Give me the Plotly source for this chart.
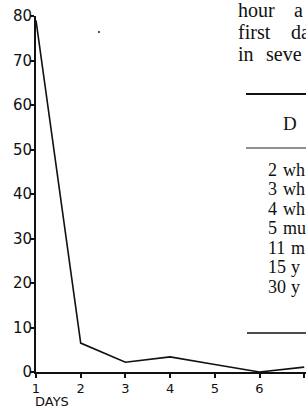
import plotly.graph_objects as go

# ---- data ----
days = [1, 2, 3, 4, 5, 6, 7]
values = [79, 6.5, 2.2, 3.4, 1.7, 0, 1.1]
x_tick_labels = ["1", "2", "3", "4", "5", "6", "7"]
y_tick_vals = [0, 10, 20, 30, 40, 50, 60, 70, 80]
x_title = "DAYS"

para_lines = [("hour", "a"), ("first", "da"), ("in", "seve")]
table_header = "D"
row_numbers = ["2", "3", "4", "5", "11", "15", "30"]
row_words = ["wh", "wh", "wh", "mu", "m", "y", "y"]

# ---- layout geometry (pixels) ----
W, H = 306, 409
L, T, B = 36, 16, 37
PW = W - L
PH = H - T - B
X0_PIX = 372  # y pixel of the x axis


def px(xp):
    return (xp - L) / PW


def py(yp):
    return (X0_PIX - yp) / PH


fig = go.Figure()
fig.add_trace(go.Scatter(
    x=days, y=values, mode="lines",
    line=dict(color="#111111", width=1.6),
    hoverinfo="skip", showlegend=False,
))

fig.update_xaxes(
    range=[1, 1 + PW / 44.7], tickvals=days, ticktext=x_tick_labels,
    showline=True, linecolor="#111111", linewidth=2,
    ticks="outside", ticklen=4, tickwidth=1.5, tickcolor="#111111",
    ticklabelstandoff=-1,
    showgrid=False, zeroline=False,
    tickfont=dict(family="DejaVu Sans", size=13, color="#111111"),
)
fig.update_yaxes(
    range=[0, 80], tickvals=y_tick_vals,
    showline=True, linecolor="#111111", linewidth=2,
    ticks="outside", ticklen=4, tickwidth=1.5, tickcolor="#111111",
    ticklabelstandoff=-5,
    showgrid=False, zeroline=False,
    tickfont=dict(family="DejaVu Sans", size=15, color="#111111"),
)

annotations = [
    dict(text=x_title, xref="paper", yref="paper", x=px(34), y=py(401.5),
         xanchor="left", yanchor="middle", showarrow=False, borderpad=0,
         font=dict(family="DejaVu Sans", size=13, color="#111111")),
]


def add_text(s, xp, yp, size):
    annotations.append(dict(
        text=s, xref="paper", yref="paper", x=px(xp), y=py(yp),
        xanchor="left", yanchor="middle", showarrow=False,
        font=dict(family="Liberation Serif", size=size, color="#111111")))


para_x2 = [292, 289, 264]
for i, (a, b) in enumerate(para_lines):
    yp = 10 + 22 * i
    add_text(a, 236, yp, 20)
    add_text(b, para_x2[i], yp, 20)

add_text(table_header, 281, 124, 19)
for i, (n, w) in enumerate(zip(row_numbers, row_words)):
    yp = 169.5 + 19.5 * i
    add_text(n, 266, yp, 18)
    add_text(w, 281 if len(n) == 1 else 289, yp, 18)

shapes = [
    dict(type="line", xref="paper", yref="paper", x0=px(246), x1=px(320),
         y0=py(94), y1=py(94), line=dict(color="#111111", width=2)),
    dict(type="line", xref="paper", yref="paper", x0=px(246), x1=px(320),
         y0=py(148), y1=py(148), line=dict(color="#222222", width=1)),
    dict(type="line", xref="paper", yref="paper", x0=px(247), x1=px(320),
         y0=py(333), y1=py(333), line=dict(color="#111111", width=1.5)),
    dict(type="circle", xref="paper", yref="paper", x0=px(98), x1=px(100),
         y0=py(33), y1=py(31), line=dict(color="#222222", width=0),
         fillcolor="#222222"),
]

fig.update_layout(
    width=W, height=H,
    margin=dict(l=L, r=0, t=T, b=B, pad=0),
    paper_bgcolor="white", plot_bgcolor="white",
    annotations=annotations, shapes=shapes,
    showlegend=False,
)

fig.write_html(
    "out.html", include_plotlyjs=True, config={"displayModeBar": False},
    post_script="document.body.style.margin='0';"
                "document.body.style.overflow='hidden';",
)
